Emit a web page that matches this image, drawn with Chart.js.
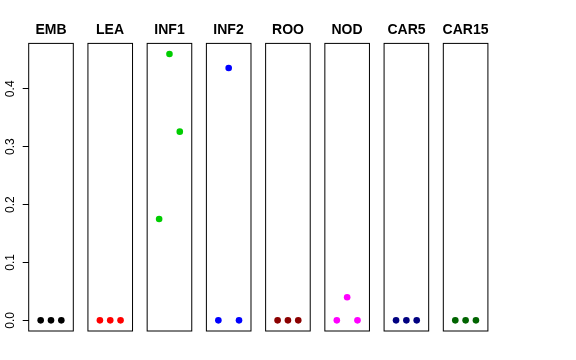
<!DOCTYPE html>
<html>
<head>
<meta charset="utf-8">
<script src="https://cdn.jsdelivr.net/npm/chart.js@4/dist/chart.umd.min.js"></script>
<style>
html, body { margin: 0; padding: 0; background: #fff; }
#wrap { position: relative; width: 576px; height: 360px; overflow: hidden; background: #fff; }
#wrap canvas { position: absolute; top: 0; }
</style>
</head>
<body>
<div id="wrap"></div>
<script>
// data
var tissues = ['EMB', 'LEA', 'INF1', 'INF2', 'ROO', 'NOD', 'CAR5', 'CAR15'];
var positions = [1, 2, 3];
var emb = [0, 0, 0];
var lea = [0, 0, 0];
var inf1 = [0.175, 0.46, 0.326];
var inf2 = [0, 0.436, 0];
var roo = [0, 0, 0];
var nod = [0, 0.04, 0];
var car5 = [0, 0, 0];
var car15 = [0, 0, 0];
var yTicks = [0, 0.1, 0.2, 0.3, 0.4];
var yTickLabels = ['0.0', '0.1', '0.2', '0.3', '0.4'];

var series = [emb, lea, inf1, inf2, roo, nod, car5, car15];
var colors = ['#000000', '#FF0000', '#00CD00', '#0000FF', '#8B0000', '#FF00FF', '#000080', '#006400'];

Chart.defaults.font.family = '"Liberation Sans", Arial, Helvetica, sans-serif';
Chart.defaults.color = '#000';

// R style ranges: 4% extension on each side
var allVals = [].concat.apply([], series);
var yLo = Math.min.apply(null, allVals), yHi = Math.max.apply(null, allVals);
var yPad = (yHi - yLo) * 0.04;
var xLo = 0, xHi = 4, xPad = (xHi - xLo) * 0.04;

// panel layout
var firstLeft = 28.7, step = 59.23, boxW = 44.6, side = 8;
var boxTop = 43.4, boxBottom = 331;

var framePlugin = {
    id: 'frame',
    beforeDatasetsDraw: function (chart) {
        var a = chart.chartArea, ctx = chart.ctx;
        ctx.save();
        ctx.strokeStyle = '#000';
        ctx.lineWidth = 1;
        ctx.strokeRect(a.left, a.top, a.right - a.left, a.bottom - a.top);
        ctx.restore();
    }
};

var wrap = document.getElementById('wrap');

tissues.forEach(function (name, i) {
    var boxLeft = firstLeft + i * step;
    var boxRight = boxLeft + boxW;
    var canvasLeft, padL, padR, canvasW;
    if (i === 0) {
        canvasLeft = 0;
        padL = boxLeft;
        canvasW = Math.ceil(boxRight + boxLeft);
        padR = canvasW - boxRight;
    } else {
        canvasLeft = Math.floor(boxLeft - side);
        canvasW = Math.ceil(boxRight + side) - canvasLeft;
        padL = boxLeft - canvasLeft;
        padR = canvasLeft + canvasW - boxRight;
    }

    var canvas = document.createElement('canvas');
    canvas.width = canvasW;
    canvas.height = 360;
    canvas.style.left = canvasLeft + 'px';
    canvas.style.width = canvasW + 'px';
    canvas.style.height = '360px';
    wrap.appendChild(canvas);

    new Chart(canvas.getContext('2d'), {
        type: 'scatter',
        data: {
            datasets: [{
                label: name,
                data: positions.map(function (x, j) { return { x: x, y: series[i][j] }; }),
                backgroundColor: colors[i],
                borderColor: colors[i],
                pointRadius: 3.3,
                pointBorderWidth: 0,
                showLine: false
            }]
        },
        options: {
            responsive: false,
            animation: false,
            events: [],
            layout: { padding: { top: 0, bottom: 360 - boxBottom, left: 0, right: 0 } },
            plugins: {
                legend: { display: false },
                tooltip: { enabled: false },
                title: {
                    display: true,
                    text: name,
                    font: { size: 14, weight: 'bold', lineHeight: 1.2 },
                    color: '#000',
                    padding: { top: 21.4, bottom: boxTop - 21.4 - 16.8 }
                }
            },
            scales: {
                x: { type: 'linear', min: xLo - xPad, max: xHi + xPad, display: false },
                y: {
                    type: 'linear',
                    min: yLo - yPad,
                    max: yHi + yPad,
                    afterBuildTicks: function (scale) {
                        scale.ticks = yTicks.map(function (v) { return { value: v }; });
                    },
                    afterFit: function (scale) { scale.width = padL; },
                    border: { display: false },
                    grid: { display: i === 0, drawOnChartArea: false, drawTicks: true, tickLength: 6, color: '#000', lineWidth: 1 },
                    ticks: {
                        display: i === 0,
                        minRotation: 90,
                        maxRotation: 90,
                        crossAlign: 'center',
                        padding: 4,
                        color: '#000',
                        font: { size: 12 },
                        callback: function (v, idx) { return yTickLabels[idx]; }
                    }
                },
                yRight: {
                    type: 'linear',
                    position: 'right',
                    min: yLo - yPad,
                    max: yHi + yPad,
                    afterFit: function (scale) { scale.width = padR; },
                    border: { display: false },
                    grid: { display: false },
                    ticks: { display: false }
                }
            }
        },
        plugins: [framePlugin]
    });
});
</script>
</body>
</html>
